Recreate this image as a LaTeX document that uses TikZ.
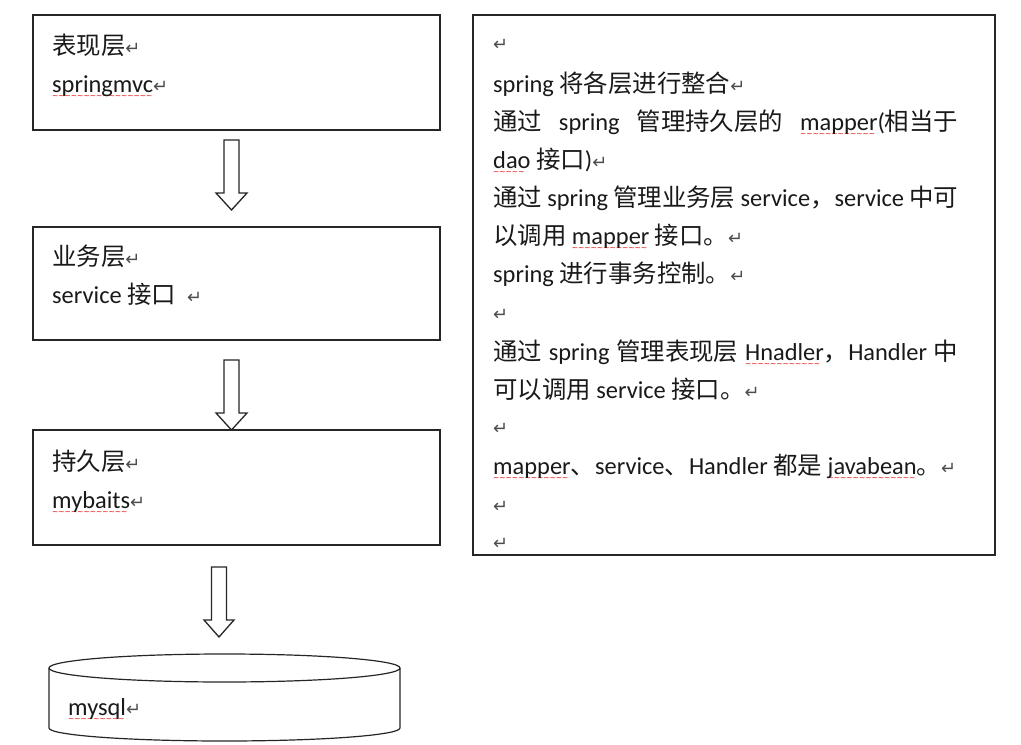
\documentclass[tikz,border=0pt]{standalone}
\usepackage{fontspec}
\setmainfont{Carlito}
\newfontfamily\zhf{Noto Sans CJK SC}
\newfontfamily\pmf{DejaVu Sans}
\newcommand\zh[1]{{\zhf #1}}
\newcommand\pmk{{\pmf\fontsize{18}{18}\selectfont\color{black!70}↵}}
\newsavebox\wvbox
\newcommand\wv[1]{\sbox\wvbox{#1}\rlap{\color{red!90!black}\raisebox{-6bp}{\leaders\hbox{\fontsize{7.5}{7.5}\pmf\symbol{"223C}}\hskip\wd\wvbox}}\usebox\wvbox}
\begin{document}
\begin{tikzpicture}[x=1bp,y=-1bp,
  box/.style={draw=black!85, line width=1.2bp, rectangle, minimum width=407bp, minimum height=115bp, inner sep=0pt},
  txt/.style={anchor=base west, inner sep=0pt, font=\fontsize{24.5}{28}\selectfont, text=black!90},
  barrow/.style={draw=black!85, line width=1.3bp, fill=white, line join=miter},
  pics/blockarrow/.style n args={3}{code={
    \draw[barrow] (-7.5,0) -- (7.5,0) -- (7.5,#1-#2) -- (#3,#1-#2) -- (0,#1) -- (-#3,#1-#2) -- (-7.5,#1-#2) -- cycle;}}
]
\useasboundingbox (0,0) rectangle (1021,745);
% layer boxes
\node[box] (pres) at (236.5,72.5) {};
\node[box, minimum height=113bp] (biz) at (236.5,283.5) {};
\node[box] (per) at (236.5,487.5) {};
\node[draw=black!85, line width=1.2bp, rectangle, minimum width=522bp, minimum height=540bp, inner sep=0pt] (notes) at (734,285) {};
% arrows
\pic (arr1) at (231.5,140) {blockarrow={70}{17}{15.5}};
\pic (arr2) at (231.5,360) {blockarrow={70}{17}{15.5}};
\pic (arr3) at (219,567) {blockarrow={70}{17}{15}};
% database cylinder
\coordinate (dbtop) at (224.5,668);
\draw[draw=black!85, line width=1.2bp] (49,668) -- (49,728) arc[start angle=180, end angle=0, x radius=175.5, y radius=13] -- (400,668);
\draw[draw=black!85, line width=1.2bp] (dbtop) ellipse [x radius=175.5, y radius=14];
% left texts
\node[txt] (t1) at (52,55) {\zh{表现层}\pmk};
\node[txt] (t2) at (52,93) {\wv{springmvc}\pmk};
\node[txt] (t3) at (52,265) {\zh{业务层}\pmk};
\node[txt] (t4) at (52,303) {service \zh{接口}\ \ \pmk};
\node[txt] (t5) at (52,470) {\zh{持久层}\pmk};
\node[txt] (t6) at (52,508) {\wv{mybaits}\pmk};
\node[txt] (t7) at (68,715) {\wv{mysql}\pmk};
% right notes
\node[txt] (n0) at (493,51) {\pmk};
\node[txt] (n1) at (493,93) {spring \zh{将各层进行整合}\pmk};
\node[txt] (n2) at (493,130) {\makebox[465bp][s]{\zh{通过} spring \zh{管理持久层的} \wv{mapper}(\zh{相当于}}};
\node[txt] (n3) at (493,168) {\wv{dao} \zh{接口})\pmk};
\node[txt] (n4) at (493,206) {\makebox[465bp][s]{\zh{通过} spring \zh{管理业务层} service\zh{，}service \zh{中可}}};
\node[txt] (n5) at (493,244) {\zh{以调用} \wv{mapper} \zh{接口。}\pmk};
\node[txt] (n6) at (493,282) {spring \zh{进行事务控制。}\pmk};
\node[txt] (n7) at (493,320) {\pmk};
\node[txt] (n8) at (493,360) {\makebox[465bp][s]{\zh{通过} spring \zh{管理表现层} \wv{Hnadler}\zh{，}Handler \zh{中}}};
\node[txt] (n9) at (493,398) {\zh{可以调用} service \zh{接口。}\pmk};
\node[txt] (n10) at (493,434) {\pmk};
\node[txt] (n11) at (493,474) {\wv{mapper}\zh{、}service\zh{、}Handler \zh{都是} \wv{javabean}\zh{。}\pmk};
\node[txt] (n12) at (493,512) {\pmk};
\node[txt] (n13) at (493,549) {\pmk};
\end{tikzpicture}
\end{document}
